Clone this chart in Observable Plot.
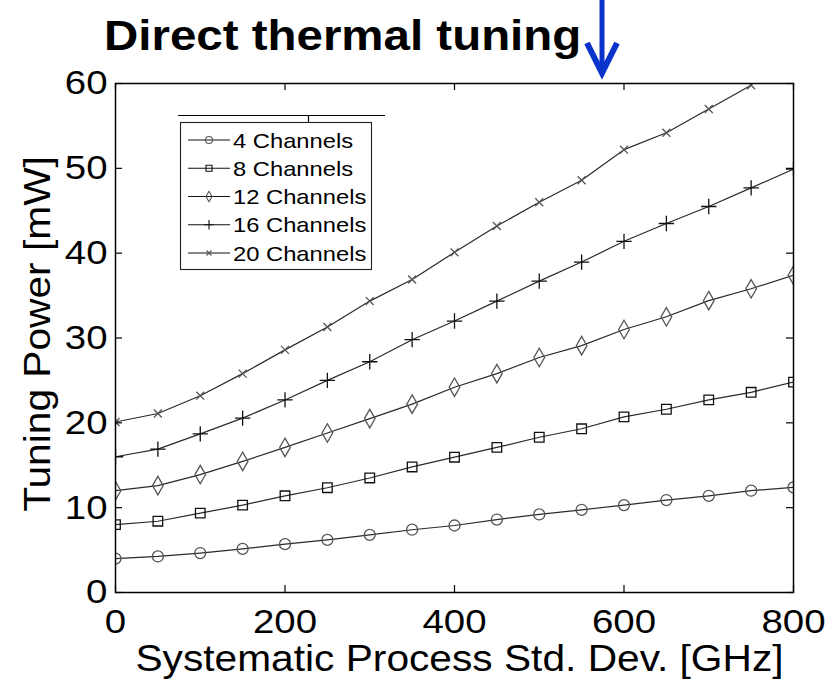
<!DOCTYPE html>
<html>
<head>
<meta charset="utf-8">
<script src="https://cdn.jsdelivr.net/npm/d3@7"></script>
<script src="https://cdn.jsdelivr.net/npm/@observablehq/plot@0.6"></script>
<style>
  html, body { margin: 0; padding: 0; background: #fff; }
  #wrap { position: relative; width: 827px; height: 681px; font-family: "Liberation Sans", Arial, sans-serif; }
  #wrap svg { display: block; }
  #overlay { position: absolute; left: 0; top: 0; pointer-events: none; overflow: visible; }
</style>
</head>
<body>
<div id="wrap"></div>
<script>
// ---- data ----
const titleText = "Direct thermal tuning";
const xLabel = "Systematic Process Std. Dev. [GHz]";
const yLabel = "Tuning Power [mW]";
const seriesNames = ["4 Channels", "8 Channels", "12 Channels", "16 Channels", "20 Channels"];
const xs = [0, 50, 100, 150, 200, 250, 300, 350, 400, 450, 500, 550, 600, 650, 700, 750, 800];
const ch4  = [4.0, 4.25, 4.65, 5.15, 5.7, 6.2, 6.8, 7.4, 7.9, 8.6, 9.2, 9.75, 10.3, 10.9, 11.4, 12.0, 12.4];
const ch8  = [8.0, 8.4, 9.35, 10.3, 11.4, 12.35, 13.5, 14.8, 15.95, 17.1, 18.3, 19.3, 20.7, 21.6, 22.7, 23.6, 24.8];
const ch12 = [12.0, 12.6, 13.9, 15.45, 17.1, 18.8, 20.5, 22.2, 24.2, 25.8, 27.7, 29.1, 31.0, 32.5, 34.4, 35.8, 37.4];
const ch16 = [16.0, 16.9, 18.7, 20.55, 22.7, 25.0, 27.2, 29.8, 32.0, 34.35, 36.7, 38.95, 41.4, 43.5, 45.5, 47.7, 49.9];
const ch20 = [20.1, 21.1, 23.2, 25.8, 28.6, 31.3, 34.35, 36.9, 40.1, 43.2, 46.0, 48.6, 52.2, 54.2, 57.0, 59.8];
const xTicks = [0, 200, 400, 600, 800];
const yTicks = [0, 10, 20, 30, 40, 50, 60];

// ---- styles ----
const seriesValues = [ch4, ch8, ch12, ch16, ch20];
const symbols = ["circle", "square", "diamond", "plus", "times"];
const d3symbols = [d3.symbolCircle, d3.symbolSquare, d3.symbolDiamond, d3.symbolPlus, d3.symbolTimes];
const markerR = [5.5, 5.4, 5.6, 5.0, 3.7];
const legendSize = [38, 36, 32, 30, 18];
const markerColor = ["#555", "#111", "#555", "#111", "#555"];
const STRETCH = 1.13;

const series = seriesNames.map((name, i) =>
  seriesValues[i].map((v, j) => ({x: xs[j], y: v, s: name}))
);

const W = 827, TITLE_H = 60, H = 681 - TITLE_H;
const inner = {left: 115, right: 793, top: 83 - TITLE_H, bottom: 592 - TITLE_H};
const innerW = inner.right - inner.left, innerH = inner.bottom - inner.top;
const TICK = 7;

const wrap = document.getElementById("wrap");

// ---- title (above the plot) ----
const tsvg = d3.create("svg").attr("width", W).attr("height", TITLE_H).style("overflow", "visible").style("position", "relative").style("z-index", 2);
tsvg.append("text")
  .attr("x", 104).attr("y", 50)
  .attr("font-family", "Liberation Sans, Arial, sans-serif")
  .attr("font-weight", "bold").attr("font-size", 42).attr("fill", "#000")
  .text(titleText);
tsvg.append("path").attr("d", "M602,0 V72").attr("stroke", "#0a33cc").attr("stroke-width", 5).attr("fill", "none");
tsvg.append("path").attr("d", "M587,43 L602,73 L617,43").attr("stroke", "#0a33cc").attr("stroke-width", 6).attr("fill", "none").attr("stroke-linejoin", "miter");
wrap.appendChild(tsvg.node());

// ---- plot ----
const marks = [];
series.forEach((rows, i) => {
  marks.push(Plot.line(rows, {x: "x", y: "y", stroke: "#2a2a2a", strokeWidth: 1.2, clip: true}));
});
series.forEach((rows, i) => {
  marks.push(Plot.dot(rows, {x: "x", y: "y", symbol: symbols[i], r: markerR[i], fill: "none",
    stroke: markerColor[i], strokeWidth: 1.3, clip: true}));
});
marks.push(
  Plot.tickX(xTicks, {x: d => d, stroke: "#000", strokeWidth: 1.2, insetTop: innerH - TICK}),
  Plot.tickX(xTicks, {x: d => d, stroke: "#000", strokeWidth: 1.2, insetBottom: innerH - TICK}),
  Plot.tickY(yTicks, {y: d => d, stroke: "#000", strokeWidth: 1.2, insetRight: innerW - TICK}),
  Plot.tickY(yTicks, {y: d => d, stroke: "#000", strokeWidth: 1.2, insetLeft: innerW - TICK}),
  Plot.axisX({ticks: xTicks, tickSize: 0, tickPadding: 16, fontSize: 34, label: null, tickFormat: d => String(d)}),
  Plot.axisY({ticks: yTicks, tickSize: 0, tickPadding: 8, fontSize: 34, label: null, tickFormat: d => String(d)}),
  Plot.frame({stroke: "#000", strokeWidth: 1.5}),
  Plot.text([xLabel], {frameAnchor: "bottom", dx: 5, dy: 78, lineAnchor: "bottom", fontSize: 36, fill: "#000"}),
  Plot.text([yLabel], {frameAnchor: "left", rotate: -90, dx: -66, dy: -4, lineAnchor: "bottom", textAnchor: "middle", fontSize: 36, fill: "#000"})
);

const chart = Plot.plot({
  width: W, height: H,
  marginLeft: inner.left, marginRight: W - inner.right,
  marginTop: inner.top, marginBottom: H - inner.bottom,
  x: {domain: [0, 800]},
  y: {domain: [0, 60]},
  style: {fontFamily: "Liberation Sans, Arial, sans-serif", fontSize: "34px", color: "#000", background: "#fff", overflow: "visible"},
  marks
});
wrap.appendChild(chart);

// ---- legend overlay (absolute page coordinates) ----
const leg = d3.create("svg").attr("id", "overlay").attr("width", W).attr("height", 681);
leg.append("path").attr("d", "M178,115.5 H385 M308.5,115 V122").attr("stroke", "#000").attr("stroke-width", 1.2).attr("fill", "none");
leg.append("rect").attr("x", 180.5).attr("y", 122.5).attr("width", 191).attr("height", 147)
  .attr("fill", "#fff").attr("stroke", "#222").attr("stroke-width", 1.1);
seriesNames.forEach((name, i) => {
  const y = 140 + i * 28.25;
  leg.append("line").attr("x1", 188).attr("x2", 230).attr("y1", y).attr("y2", y).attr("stroke", "#111").attr("stroke-width", 1.1);
  leg.append("path").attr("transform", `translate(209,${y})`)
    .attr("d", d3.symbol(d3symbols[i], legendSize[i])())
    .attr("fill", "none").attr("stroke", markerColor[i]).attr("stroke-width", 1.1);
  leg.append("text").attr("x", 233).attr("y", y).attr("dy", "0.36em")
    .attr("font-family", "Liberation Sans, Arial, sans-serif").attr("font-size", 21).attr("fill", "#000")
    .text(name);
});
wrap.appendChild(leg.node());

// ---- horizontal glyph stretch to match the reference's wider type ----
wrap.querySelectorAll("text").forEach(t => {
  const w = t.getComputedTextLength();
  if (w > 0) {
    t.setAttribute("textLength", (w * STRETCH).toFixed(1));
    t.setAttribute("lengthAdjust", "spacingAndGlyphs");
  }
});
</script>
</body>
</html>
